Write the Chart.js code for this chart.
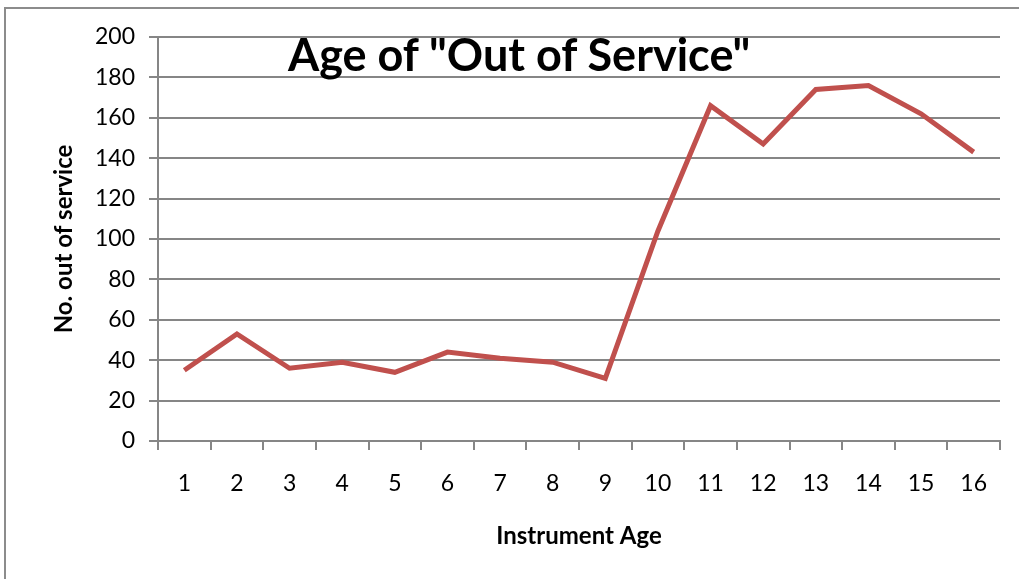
<!DOCTYPE html>
<html>
<head>
<meta charset="utf-8">
<script src="https://cdn.jsdelivr.net/npm/chart.js@4"></script>
<style>
  body { margin: 0; background: #fff; }
  #wrap { position: relative; width: 1019px; height: 579px; overflow: hidden; }
  #frame { position: absolute; left: 4px; top: 7px; width: 1100px; height: 700px;
           border-left: 2px solid #8c8c8c; border-top: 2px solid #8c8c8c; }
  #title { position: absolute; left: 288px; top: 27px; font: bold 45px Lato, "Open Sans", sans-serif;
           color: #000; white-space: nowrap; }
  canvas { position: absolute; left: 0; top: 0; }
</style>
</head>
<body>
<div id="wrap">
  <div id="frame"></div>
  <canvas id="grafico" width="1019" height="579"></canvas>
  <div id="title">Age of "Out of Service"</div>
</div>
<script>
const ages = ["1","2","3","4","5","6","7","8","9","10","11","12","13","14","15","16"];
const outOfService = [35, 53, 36, 39, 34, 44, 41, 39, 31, 104, 166, 147, 174, 176, 162, 143];
const yTicks = [0, 20, 40, 60, 80, 100, 120, 140, 160, 180, 200];

const font = "Lato";
const grey = "#868686";

let box = document.getElementById("grafico");
const chartjs = new Chart(box, {
    type: 'line',
    data: {
        labels: ages,
        datasets: [{
            label: 'No. out of service',
            data: outOfService,
            borderColor: '#C0504D',
            borderWidth: 5,
            pointRadius: 0,
            tension: 0,
            fill: false
        }]
    },
    options: {
        responsive: false,
        animation: false,
        layout: { padding: { left: 46, right: 19, top: 37, bottom: 24 } },
        plugins: { legend: { display: false }, title: { display: false }, tooltip: { enabled: false } },
        scales: {
            x: {
                offset: true,
                grid: { offset: true, drawOnChartArea: false, color: grey, lineWidth: 2, tickLength: 9 },
                border: { color: grey, width: 2 },
                ticks: { color: '#000', font: { family: font, size: 23 }, padding: 20, maxRotation: 0 },
                title: { display: true, text: 'Instrument Age', color: '#000',
                         font: { family: font, size: 24, weight: 'bold' }, padding: { top: 26 } },
                afterFit: function(s) { s.height = 579 - 441 - 24; }
            },
            y: {
                min: 0, max: 200,
                afterBuildTicks: function(s) { s.ticks = yTicks.map(v => ({ value: v })); },
                grid: { color: grey, lineWidth: 2, tickLength: 9 },
                border: { color: grey, width: 2 },
                ticks: { color: '#000', font: { family: font, size: 23 }, padding: 14 },
                title: { display: true, text: 'No. out of service', color: '#000',
                         font: { family: font, size: 24, weight: 'bold' }, padding: { bottom: 20 } },
                afterFit: function(s) { s.width = 158 - 46; }
            }
        }
    }
});
</script>
</body>
</html>
